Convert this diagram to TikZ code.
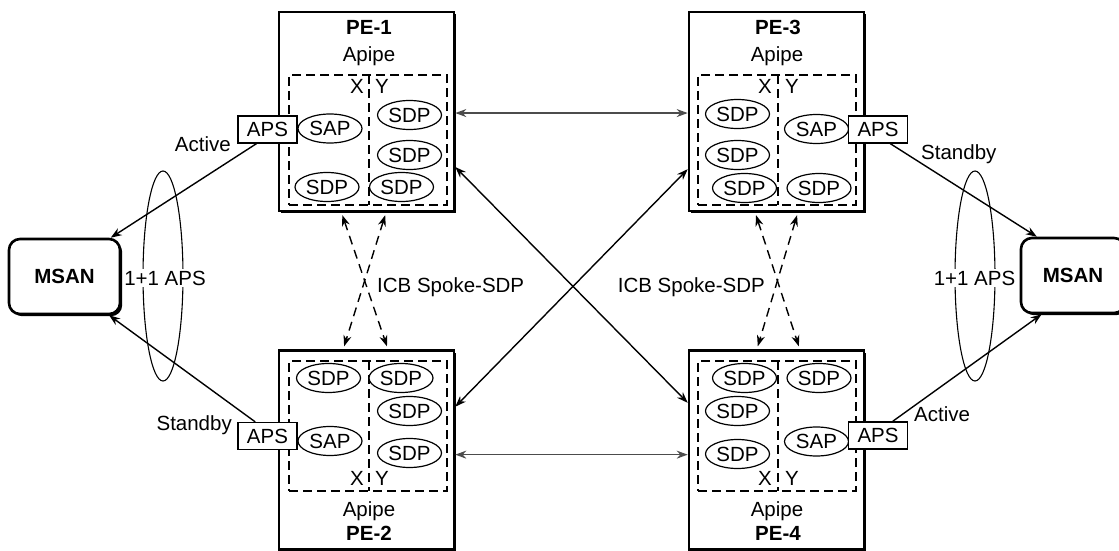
\documentclass[tikz,border=0pt]{standalone}
\usepackage{fontspec}
\setmainfont{Liberation Sans}
\usetikzlibrary{shapes.geometric,arrows.meta,shadows}
\tikzset{
  txt/.style={font=\fontsize{20.5}{24}\selectfont, inner sep=0pt},
  ttl/.style={font=\fontsize{20.5}{24}\selectfont\bfseries, inner sep=0pt},
  pebox/.style={draw, line width=2.6pt, fill=white, minimum width=175pt, minimum height=199pt,
    drop shadow={shadow xshift=2.4pt, shadow yshift=-2.4pt, fill=black, opacity=1}},
  vbox/.style={draw, line width=1.2pt, dash pattern=on 9pt off 5pt, minimum width=158pt, minimum height=130pt, inner sep=0pt},
  vline/.style={line width=1.2pt, dash pattern=on 9pt off 5pt},
  oval/.style={ellipse, draw, line width=1.2pt, fill=white, minimum width=64pt, minimum height=29pt, txt},
  apsbox/.style={draw, line width=1.3pt, fill=white, minimum width=59pt, minimum height=27pt, txt},
  msan/.style={draw, line width=2.6pt, rounded corners=11pt, fill=white, minimum width=111pt, minimum height=75pt, ttl,
    drop shadow={shadow xshift=2.2pt, shadow yshift=-2.2pt, fill=black, opacity=1}},
  apsring/.style={ellipse, draw, line width=1.1pt, minimum width=40pt, minimum height=210pt, inner sep=0pt},
  tipx/.tip={Stealth[length=11pt,width=8pt]},
  sarr/.style={line width=1.4pt, -tipx},
  darr/.style={line width=1.4pt, tipx-tipx},
  harr/.style={line width=1.4pt, draw=black!70, tipx-tipx},
  icb/.style={line width=1.4pt, dash pattern=on 9pt off 6pt, tipx-tipx, shorten <=3pt, shorten >=3pt},
  ringlbl/.style={txt, fill=white, inner xsep=1pt, inner ysep=2pt, anchor=base}
}
\begin{document}
\begin{tikzpicture}[x=1pt,y=-1pt]
\useasboundingbox (0,0) rectangle (1119,551);
\clip (0,0) rectangle (1119,551);

% protection rings
\node[apsring] (ringL) at (163,276) {};
\node[apsring] (ringR) at (975,276) {};

% MSANs
\node[msan] (msanL) at (64.5,276.5) {MSAN};
\node[msan, minimum width=104pt] (msanR) at (1073,275.5) {MSAN};

% PE boxes
\node[pebox] (pe1) at (366.5,111.5) {};
\node[pebox] (pe2) at (366.5,450) {};
\node[pebox] (pe3) at (776.5,111.5) {};
\node[pebox] (pe4) at (776.5,450) {};

% titles
\node[ttl, anchor=base] (t1) at (369,35) {PE-1};
\node[txt, anchor=base] (a1) at (369,61.5) {Apipe};
\node[ttl, anchor=base] (t3) at (778,35) {PE-3};
\node[txt, anchor=base] (a3) at (777,61.5) {Apipe};
\node[txt, anchor=base] (a2) at (369,516.5) {Apipe};
\node[ttl, anchor=base] (t2) at (369,540) {PE-2};
\node[txt, anchor=base] (a4) at (777,516) {Apipe};
\node[ttl, anchor=base] (t4) at (778,540) {PE-4};

% VLL boxes
\node[vbox] (v1) at (368,140) {};
\node[vbox] (v2) at (368,426) {};
\node[vbox] (v3) at (777,140) {};
\node[vbox] (v4) at (777,426) {};
\draw[vline] (369,75) -- (369,205);
\draw[vline] (369,361) -- (369,491);
\draw[vline] (778,75) -- (778,205);
\draw[vline] (778,361) -- (778,491);

% X / Y
\node[txt, anchor=base east] (x1) at (364,93) {X};
\node[txt, anchor=base west] (y1) at (375,93) {Y};
\node[txt, anchor=base east] (x2) at (364,485) {X};
\node[txt, anchor=base west] (y2) at (375,485) {Y};
\node[txt, anchor=base east] (x3) at (772,93) {X};
\node[txt, anchor=base west] (y3) at (785,93) {Y};
\node[txt, anchor=base east] (x4) at (772,485) {X};
\node[txt, anchor=base west] (y4) at (785,485) {Y};

% PE-1 endpoints
\node[oval] (sap1) at (330,128.5) {SAP};
\node[oval] (d1a) at (409.5,115) {SDP};
\node[oval] (d1b) at (409.5,155) {SDP};
\node[oval] (d1d) at (327,187) {SDP};
\node[oval] (d1c) at (401.5,187) {SDP};
% PE-2 endpoints
\node[oval] (d2a) at (328.5,378) {SDP};
\node[oval] (d2b) at (401,378) {SDP};
\node[oval] (d2c) at (409.5,411) {SDP};
\node[oval] (d2d) at (409.5,453) {SDP};
\node[oval] (sap2) at (330,441) {SAP};
% PE-3 endpoints
\node[oval] (d3a) at (737.5,114) {SDP};
\node[oval] (d3b) at (737.5,155) {SDP};
\node[oval] (d3c) at (744.5,188) {SDP};
\node[oval] (d3d) at (819,188) {SDP};
\node[oval] (sap3) at (816.5,129) {SAP};
% PE-4 endpoints
\node[oval] (d4a) at (744.5,378) {SDP};
\node[oval] (d4b) at (737.5,411) {SDP};
\node[oval] (d4c) at (737.5,454) {SDP};
\node[oval] (d4d) at (819,378) {SDP};
\node[oval] (sap4) at (816.5,441.5) {SAP};

% APS ports
\node[apsbox] (aps1) at (267.5,129.5) {APS};
\node[apsbox] (aps2) at (267.5,436) {APS};
\node[apsbox] (aps3) at (878,129.5) {APS};
\node[apsbox] (aps4) at (878,435.5) {APS};

% access links
\draw[sarr] (aps1.232) -- (msanL.40);
\draw[sarr] (aps2.131.8) -- (msanL.319.5);
\draw[sarr] (aps3.311.6) -- (msanR.133);
\draw[sarr] (aps4.44) -- (msanR.231.5);

\node[txt, anchor=base east] (lal) at (231,151.5) {Active};
\node[txt, anchor=base east] (lsl) at (232,430) {Standby};
\node[txt, anchor=base west] (lsr) at (921,159) {Standby};
\node[txt, anchor=base west] (lar) at (914,421) {Active};

\node[ringlbl] (rl) at (165,285) {1+1 APS};
\node[ringlbl] (rr) at (974.5,285) {1+1 APS};

% core spoke-SDPs
\draw[harr] (pe1.-1.64) -- (pe3.181.64);
\draw[harr] (pe2.-3.27) -- (pe4.183.27);
\draw[darr] (pe1.-32.9) -- (pe4.152.3);
\draw[darr] (pe3.213.8) -- (pe2.26.2);

% ICB spoke-SDPs
\draw[icb] (pe1.256.8) -- (pe2.78.3);
\draw[icb] (pe1.281.6) -- (pe2.103.4);
\draw[icb] (pe3.258.9) -- (pe4.77.3);
\draw[icb] (pe3.282.7) -- (pe4.101.1);
\node[txt, anchor=base west] (icbl) at (377,292) {ICB Spoke-SDP};
\node[txt, anchor=base east] (icbr) at (765,292) {ICB Spoke-SDP};
\end{tikzpicture}
\end{document}
